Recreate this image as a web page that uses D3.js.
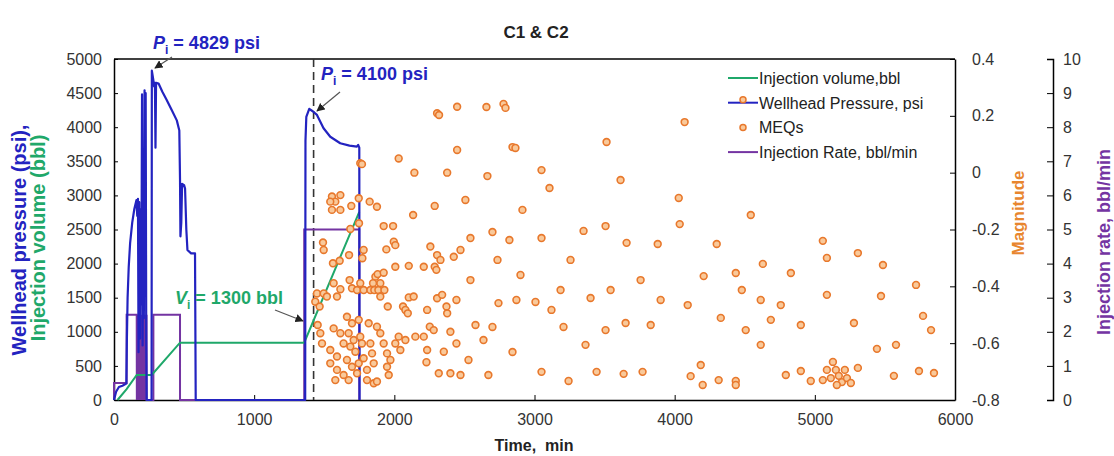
<!DOCTYPE html>
<html>
<head>
<meta charset="utf-8">
<script src="https://cdn.jsdelivr.net/npm/d3@7"></script>
<style>
  body { margin: 0; background: #fff; }
  svg { font-family: "Liberation Sans", Arial, sans-serif; }
</style>
</head>
<body>
<div id="wrapper"></div>
<script>
// wellhead pressure, psi  [time min, psi]
const pressure = [
  [0, 0], [15, 120], [35, 190], [60, 210], [88, 240], [92, 900], [97, 1500], [105, 1950],
  [115, 2300], [130, 2600], [145, 2800], [160, 2930], [166, 2700], [171, 2950], [175, 700],
  [180, 2900], [186, 900], [190, 2800], [195, 1400], [200, 4480], [204, 800], [209, 3000],
  [213, 1200], [218, 4540], [222, 1800], [226, 4500], [230, 900], [233, 0], [268, 0],
  [270, 4829], [280, 4700], [286, 4600], [292, 4650], [296, 3700], [300, 4650], [318, 4640],
  [345, 4520], [376, 4400], [410, 4260], [448, 4100], [466, 3950], [471, 3230], [474, 2400],
  [480, 2600], [486, 3170], [500, 3150], [507, 3100], [516, 2500], [524, 2200], [550, 2150],
  [578, 2150], [583, 0], [1364, 0], [1366, 3800], [1372, 4150], [1393, 4270], [1420, 4230],
  [1448, 4180], [1495, 3985], [1543, 3860], [1614, 3765], [1680, 3730], [1733, 3715],
  [1742, 3740], [1750, 3700], [1752, 0]
]

// injection volume, bbl
const volume = [
  [25, 0], [90, 160], [162, 367], [269, 367], [471, 841], [1357, 841], [1750, 2760]
]

// injection rate, bbl/min
const rate = [
  [0, 0], [0, 0.5], [90, 0.5], [90, 2.5], [162, 2.5], [163, 0], [166, 2.5], [169, 0], [172, 2.5],
  [175, 0], [178, 2.5], [181, 0], [184, 2.5], [187, 0], [190, 2.5], [193, 0], [196, 2.5],
  [199, 0], [202, 2.5], [205, 0], [208, 2.5], [211, 0], [214, 2.5], [217, 0], [220, 2.5],
  [223, 0], [226, 2.5], [229, 0], [232, 2.5], [233, 0], [281, 0], [281, 2.5], [471, 2.5],
  [471, 0], [1357, 0], [1357, 5], [1750, 5], [1750, 0]
]

// micro-earthquakes [time min, magnitude]
const meqs = [
  [2305, 0.209], [2319, 0.203], [2448, 0.232], [2448, 0.080], [2031, 0.050], [1757, 0.033],
  [1769, 0.030], [2143, 0.000], [2377, 0.000], [1555, -0.084], [1615, -0.079], [1579, -0.102],
  [1543, -0.102], [1615, -0.131], [1555, -0.131], [1693, -0.117], [1746, -0.090], [1824, -0.102],
  [1876, -0.120], [2288, -0.117], [2134, -0.149], [1748, -0.178], [1686, -0.198], [1924, -0.188],
  [1991, -0.188], [1491, -0.246], [1496, -0.272], [1943, -0.270], [1996, -0.243], [2007, -0.255],
  [2257, -0.260], [2305, -0.290], [2424, -0.296], [2472, -0.272], [1562, -0.319], [1610, -0.310],
  [1677, -0.290], [1781, -0.272], [1772, -0.301], [2007, -0.331], [2103, -0.328], [2210, -0.331],
  [2288, -0.331], [2329, -0.307], [2300, -0.342], [1865, -0.366], [1881, -0.357], [1924, -0.352],
  [1900, -0.389], [1848, -0.389], [1681, -0.378], [1698, -0.407], [1734, -0.413], [1757, -0.389],
  [1781, -0.413], [1567, -0.389], [1615, -0.410], [1591, -0.436], [1448, -0.425], [1496, -0.425],
  [1519, -0.436], [1436, -0.454], [1467, -0.471], [1829, -0.413], [1857, -0.413], [1886, -0.413],
  [1929, -0.413], [2103, -0.439], [2138, -0.436], [1900, -0.436], [1953, -0.471], [2062, -0.471],
  [2079, -0.483], [2096, -0.495], [2234, -0.483], [2305, -0.442], [2341, -0.430], [2377, -0.495],
  [2372, -0.471], [2443, -0.448], [2150, -0.577], [2210, -0.577], [2253, -0.542], [2281, -0.554],
  [2234, -0.624], [2353, -0.630], [2400, -0.560], [2443, -0.601], [2229, -0.667], [2317, -0.706],
  [2400, -0.706], [2472, -0.712], [1662, -0.507], [1698, -0.530], [1746, -0.518], [1674, -0.565],
  [1710, -0.589], [1757, -0.577], [1686, -0.612], [1722, -0.630], [1769, -0.601], [1662, -0.659],
  [1698, -0.683], [1746, -0.671], [1781, -0.653], [1734, -0.706], [1674, -0.730], [1805, -0.694],
  [1805, -0.730], [1853, -0.741], [1876, -0.735], [1579, -0.730], [1543, -0.671], [1591, -0.694],
  [1638, -0.712], [1591, -0.647], [1543, -0.624], [1484, -0.601], [1472, -0.565], [1567, -0.548],
  [1615, -0.565], [1638, -0.601], [1876, -0.542], [1817, -0.530], [1900, -0.565], [1924, -0.601],
  [1948, -0.636], [2007, -0.601], [2031, -0.577], [2043, -0.624], [2079, -0.589], [1972, -0.659],
  [1948, -0.683], [1960, -0.712], [1829, -0.601], [1841, -0.636], [1853, -0.671], [1453, -0.536],
  // later events, 2500 - 5900 min
  [2657, 0.231], [2779, 0.242], [2793, 0.228], [3514, 0.108], [4071, 0.178], [2843, 0.090],
  [2864, 0.087], [3050, 0.009], [2664, -0.012], [3107, -0.054], [3614, -0.026], [4029, -0.089],
  [4036, -0.181], [4543, -0.149], [3507, -0.188], [3350, -0.205], [3050, -0.230], [2821, -0.237],
  [2700, -0.209], [2543, -0.230], [3657, -0.247], [3879, -0.251], [4300, -0.251], [5057, -0.240],
  [5086, -0.300], [5307, -0.283], [5486, -0.325], [4829, -0.353], [4629, -0.321], [4436, -0.353],
  [4479, -0.413], [4207, -0.364], [4093, -0.466], [5722, -0.395], [5086, -0.430], [5472, -0.434],
  [5772, -0.504], [5829, -0.554], [5279, -0.529], [5443, -0.620], [3829, -0.536], [3650, -0.529],
  [3507, -0.554], [3364, -0.606], [3207, -0.543], [3121, -0.483], [3007, -0.455], [2871, -0.448],
  [2743, -0.459], [2700, -0.543], [2636, -0.589], [2529, -0.659], [2671, -0.712], [2843, -0.631],
  [3050, -0.701], [3243, -0.733], [3443, -0.701], [3636, -0.708], [3771, -0.701], [4186, -0.677],
  [4114, -0.716], [4314, -0.730], [4200, -0.747], [4436, -0.733], [4436, -0.747], [4793, -0.712],
  [4900, -0.698], [4971, -0.733], [5057, -0.730], [5129, -0.666], [5150, -0.694], [5171, -0.715],
  [5193, -0.737], [5157, -0.747], [5114, -0.723], [5214, -0.694], [5229, -0.723], [5257, -0.740],
  [5086, -0.694], [5307, -0.687], [5564, -0.715], [5743, -0.698], [5850, -0.705], [5579, -0.606],
  [4686, -0.518], [4614, -0.606], [4507, -0.554], [4329, -0.511], [4614, -0.448], [4757, -0.466],
  [4900, -0.536], [3257, -0.307], [3186, -0.413], [3400, -0.441], [3543, -0.413], [3757, -0.378],
  [3900, -0.448], [2543, -0.378], [2579, -0.536], [2914, -0.131], [2507, -0.096], [2900, -0.360],
  [2736, -0.307]
]

const xTicks = [0, 1000, 2000, 3000, 4000, 5000, 6000]
const yTicks = [0, 500, 1000, 1500, 2000, 2500, 3000, 3500, 4000, 4500, 5000]
const magTicks = [-0.8, -0.6, -0.4, -0.2, 0, 0.2, 0.4]
const rateTicks = [0, 1, 2, 3, 4, 5, 6, 7, 8, 9, 10]

const colors = { pressure: "#2323c0", volume: "#1fa86a", rate: "#7434a2", meq: "#e8782c", meqFill: "#f9c99a", mag: "#e8862e" }

const dims = { width: 1114, height: 456, margin: { top: 59, right: 159, bottom: 56, left: 114 } }
dims.boundWidth = dims.width - dims.margin.left - dims.margin.right
dims.boundHeight = dims.height - dims.margin.top - dims.margin.bottom

const svg = d3.select("#wrapper").append("svg")
    .attr("width", dims.width)
    .attr("height", dims.height)

const bound = svg.append("g")
    .attr("transform", `translate(${dims.margin.left},${dims.margin.top})`)

const x = d3.scaleLinear().domain([0, 6000]).range([0, dims.boundWidth])
const y = d3.scaleLinear().domain([0, 5000]).range([dims.boundHeight, 0])
const yMag = d3.scaleLinear().domain([-0.8, 0.4]).range([dims.boundHeight, 0])
const yRate = d3.scaleLinear().domain([0, 10]).range([dims.boundHeight, 0])

// axes
const tickText = sel => sel.selectAll("text").attr("fill", "#333").style("font-size", "16px")
const plain = d => String(d)

const xAxis = bound.append("g")
    .attr("transform", `translate(0,${dims.boundHeight})`)
    .call(d3.axisBottom(x).tickValues(xTicks).tickFormat(plain).tickSizeInner(-5).tickSizeOuter(0).tickPadding(14))
xAxis.call(tickText)

const yAxis = bound.append("g")
    .call(d3.axisLeft(y).tickValues(yTicks).tickFormat(plain).tickSizeInner(-4).tickSizeOuter(0).tickPadding(12))
yAxis.call(tickText)

const magAxis = bound.append("g")
    .attr("transform", `translate(${dims.boundWidth},0)`)
    .call(d3.axisRight(yMag).tickValues(magTicks).tickSizeInner(-5).tickSizeOuter(0).tickPadding(17)
        .tickFormat(d => d === 0 ? "0" : d.toFixed(1)))
magAxis.call(tickText)

// top frame line
bound.append("line").attr("x1", 0).attr("x2", dims.boundWidth).attr("y1", 0).attr("y2", 0)
    .attr("stroke", "#000").attr("stroke-width", 1.5)
bound.selectAll(".domain").attr("stroke", "#000").attr("stroke-width", 1.5)

const rateAxis = bound.append("g")
    .attr("transform", `translate(${dims.boundWidth + 98},0)`)
    .call(d3.axisRight(yRate).tickValues(rateTicks).tickSizeInner(-6).tickSizeOuter(-6).tickPadding(10))
rateAxis.call(tickText)
rateAxis.select(".domain").attr("stroke", "#000").attr("stroke-width", 1.5)

// dashed marker at Pi of stage 2
bound.append("line")
    .attr("x1", x(1424)).attr("x2", x(1424)).attr("y1", 0).attr("y2", dims.boundHeight)
    .attr("stroke", "#333").attr("stroke-width", 1.6).attr("stroke-dasharray", "8,5")

const line = (ys) => d3.line().x(d => x(d[0])).y(d => ys(d[1]))

bound.append("path").datum(rate)
    .attr("d", line(yRate)).attr("fill", "none")
    .attr("stroke", colors.rate).attr("stroke-width", 2)

bound.append("path").datum(volume)
    .attr("d", line(y)).attr("fill", "none")
    .attr("stroke", colors.volume).attr("stroke-width", 2)

bound.append("path").datum(pressure)
    .attr("d", line(y)).attr("fill", "none")
    .attr("stroke", colors.pressure).attr("stroke-width", 2.2).attr("stroke-linejoin", "round")

bound.append("g").selectAll("circle").data(meqs).join("circle")
    .attr("cx", d => x(d[0]))
    .attr("cy", d => yMag(d[1]))
    .attr("r", 3.4)
    .attr("fill", colors.meqFill)
    .attr("stroke", colors.meq)
    .attr("stroke-width", 1.6)

// annotations
svg.append("defs").append("marker")
    .attr("id", "arrow").attr("viewBox", "0 0 10 10").attr("refX", 9).attr("refY", 5)
    .attr("markerWidth", 7).attr("markerHeight", 7).attr("orient", "auto")
  .append("path").attr("d", "M0,0L10,5L0,10z").attr("fill", "#222")

const annotations = [
  { text: "4829 psi", sym: "P", color: colors.pressure, tx: 153, ty: 49, from: [172, 57], to: [155, 68] },
  { text: "4100 psi", sym: "P", color: colors.pressure, tx: 321, ty: 80, from: [340, 92], to: [317, 111] },
  { text: "1300 bbl", sym: "V", color: colors.volume, tx: 175, ty: 304, from: [275, 310], to: [303, 321] }
]
annotations.forEach(a => {
  const t = svg.append("text").attr("x", a.tx).attr("y", a.ty)
      .attr("fill", a.color).style("font-size", "18px").style("font-weight", "bold")
  t.append("tspan").text(a.sym).style("font-style", "italic")
  t.append("tspan").text("i").attr("dy", 5).style("font-size", "12px")
  t.append("tspan").text(" = " + a.text).attr("dy", -5)
  svg.append("line").attr("x1", a.from[0]).attr("y1", a.from[1]).attr("x2", a.to[0]).attr("y2", a.to[1])
      .attr("stroke", "#555").attr("stroke-width", 1.2).attr("marker-end", "url(#arrow)")
})

// titles
svg.append("text").attr("x", 536).attr("y", 38).attr("text-anchor", "middle")
    .style("font-size", "17px").style("font-weight", "bold").attr("fill", "#222").text("C1 & C2")
svg.append("text").attr("x", 534).attr("y", 451).attr("text-anchor", "middle")
    .style("font-size", "16px").style("font-weight", "bold").attr("fill", "#222").text("Time,\u00a0\u00a0min")

const vLabel = (xp, yp, text, color, size) => svg.append("text")
    .attr("transform", `translate(${xp},${yp}) rotate(-90)`).attr("text-anchor", "middle")
    .style("font-size", size + "px").style("font-weight", "bold").attr("fill", color).text(text)
vLabel(26, 240, "Wellhead pressure (psi),", colors.pressure, 20)
vLabel(45, 238, "Injection volume (bbl)", colors.volume, 20)
vLabel(1024, 213, "Magnitude", colors.mag, 17)
vLabel(1110, 242, "Injection rate, bbl/min", colors.rate, 18)

// legend
const legend = svg.append("g").attr("transform", "translate(728,78)")
const items = [
  { label: "Injection volume,bbl", type: "line", color: colors.volume },
  { label: "Wellhead Pressure, psi", type: "both", color: colors.pressure },
  { label: "MEQs", type: "dot", color: colors.meq },
  { label: "Injection Rate, bbl/min", type: "line", color: colors.rate }
]
items.forEach((it, i) => {
  const g = legend.append("g").attr("transform", `translate(0,${i * 24.7})`)
  if (it.type !== "dot") g.append("line").attr("x1", 0).attr("x2", 30).attr("stroke", it.color).attr("stroke-width", 2)
  if (it.type !== "line") g.append("circle").attr("cx", 15).attr("cy", it.type === "both" ? -3 : 0).attr("r", 3)
      .attr("fill", colors.meqFill).attr("stroke", colors.meq).attr("stroke-width", 1.5)
  g.append("text").attr("x", 31).attr("y", 6).style("font-size", "16px").attr("fill", "#222").text(it.label)
})
</script>
</body>
</html>
